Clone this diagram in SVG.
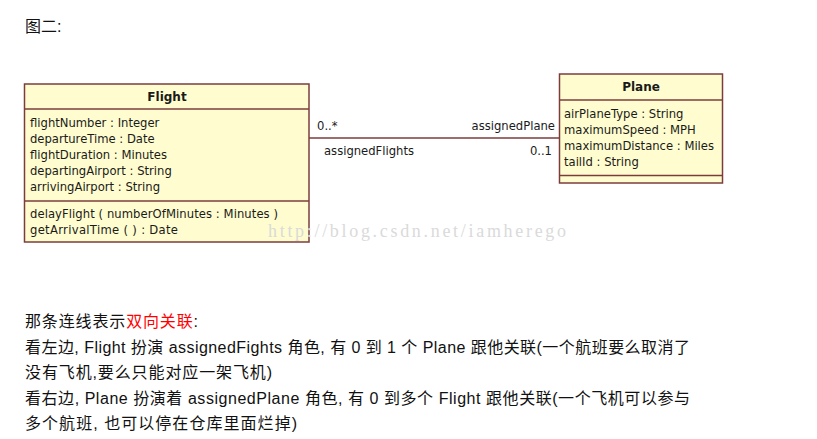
<svg xmlns="http://www.w3.org/2000/svg" width="817" height="439" viewBox="0 0 817 439">
<style>
.box{fill:#fffdcf;stroke:#7d3c3c;stroke-width:1.5}
.sep{stroke:#7d3c3c;stroke-width:1.3}
.t{font-family:"DejaVu Sans","Liberation Sans",sans-serif;font-size:11.6px;fill:#1a1a1a}
.title{font-family:"DejaVu Sans","Liberation Sans",sans-serif;font-size:12px;font-weight:bold;fill:#1a1a1a;text-anchor:middle}
.cn{font-family:"Liberation Sans","Noto Sans CJK SC",sans-serif;font-size:16px;fill:#111}
.wm{font-family:"Liberation Serif",serif;font-size:18px;fill:#dadada}
</style>
<rect width="817" height="439" fill="#fff"/>
<text class="cn" x="25" y="32">图二:</text>

<g id="connectors">
  <line x1="309" y1="138" x2="559" y2="138" stroke="#7d3c3c" stroke-width="1.3"/>
  <text class="t" x="317" y="130">0..*</text>
  <text class="t" x="555" y="130" text-anchor="end">assignedPlane</text>
  <text class="t" x="324" y="155">assignedFlights</text>
  <text class="t" x="552" y="155" text-anchor="end">0..1</text>
</g>

<g id="Flight">
  <rect class="box" x="24.5" y="84" width="284.5" height="158"/>
  <line class="sep" x1="24.5" y1="109" x2="309" y2="109"/>
  <line class="sep" x1="24.5" y1="201" x2="309" y2="201"/>
  <text class="title" x="167" y="101">Flight</text>
  <text class="t" x="30" y="127">flightNumber : Integer</text>
  <text class="t" x="30" y="143">departureTime : Date</text>
  <text class="t" x="30" y="159">flightDuration : Minutes</text>
  <text class="t" x="30" y="175">departingAirport : String</text>
  <text class="t" x="30" y="191">arrivingAirport : String</text>
  <text class="t" x="30" y="218" textLength="248" lengthAdjust="spacing">delayFlight ( numberOfMinutes : Minutes )</text>
  <text class="t" x="30" y="234" textLength="148" lengthAdjust="spacing">getArrivalTime ( ) : Date</text>
</g>

<g id="Plane">
  <rect class="box" x="559.5" y="74" width="163" height="109"/>
  <line class="sep" x1="559.5" y1="100" x2="722.5" y2="100"/>
  <line class="sep" x1="559.5" y1="175.5" x2="722.5" y2="175.5"/>
  <text class="title" x="641" y="91">Plane</text>
  <text class="t" x="564" y="118">airPlaneType : String</text>
  <text class="t" x="564" y="134">maximumSpeed : MPH</text>
  <text class="t" x="564" y="150">maximumDistance : Miles</text>
  <text class="t" x="564" y="166">tailId : String</text>
</g>

<text class="wm" x="268" y="237" textLength="298" lengthAdjust="spacing">http://blog.csdn.net/iamherego</text>

<text class="cn" x="25" y="327" textLength="173" lengthAdjust="spacing">那条连线表示<tspan fill="#ff0000">双向关联</tspan>:</text>
<text class="cn" x="25" y="352.5" textLength="665" lengthAdjust="spacing">看左边, Flight 扮演 assignedFights 角色, 有 0 到 1 个 Plane 跟他关联(一个航班要么取消了</text>
<text class="cn" x="25" y="378" textLength="247" lengthAdjust="spacing">没有飞机,要么只能对应一架飞机)</text>
<text class="cn" x="25" y="403.5" textLength="665" lengthAdjust="spacing">看右边, Plane 扮演着 assignedPlane 角色, 有 0 到多个 Flight 跟他关联(一个飞机可以参与</text>
<text class="cn" x="25" y="429" textLength="272" lengthAdjust="spacing">多个航班, 也可以停在仓库里面烂掉)</text>
</svg>
